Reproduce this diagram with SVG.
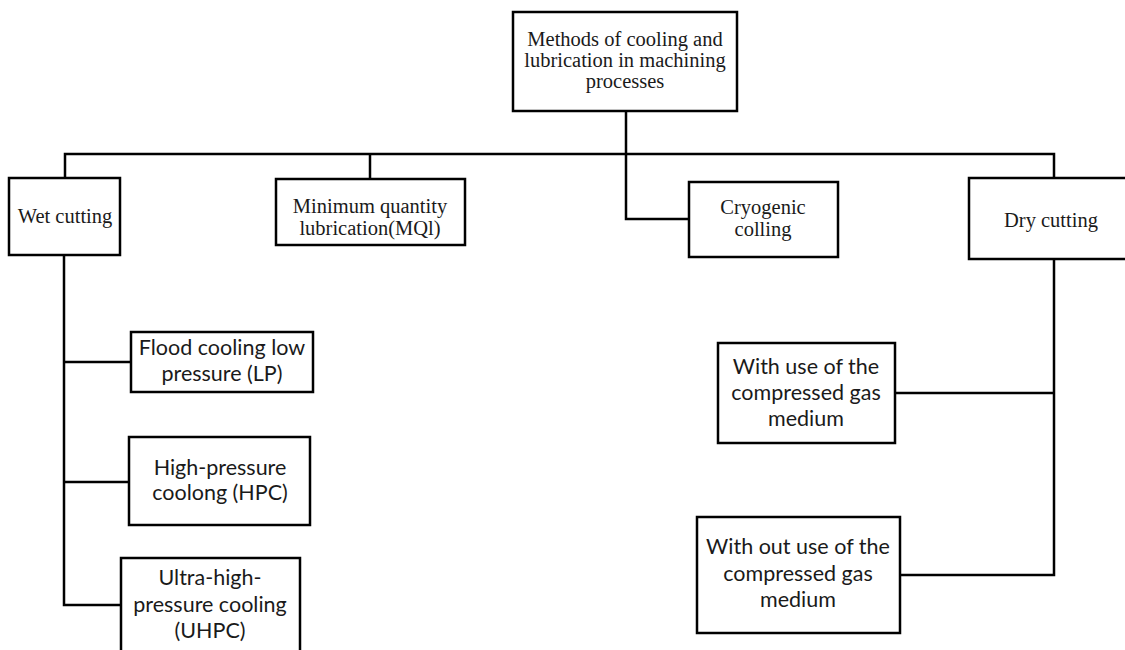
<svg xmlns="http://www.w3.org/2000/svg" width="1125" height="650" viewBox="0 0 1125 650">
<style>
.box{fill:#fff;stroke:#000;stroke-width:2.5}
.ln{fill:none;stroke:#000;stroke-width:2.5}
.s{font-family:"Liberation Serif","Times New Roman",serif;font-size:20.5px;fill:#1a1a1a;text-anchor:middle}
.c{font-family:Lato,"Liberation Sans",sans-serif;font-size:21.5px;fill:#1a1a1a;text-anchor:middle}
</style>
<rect width="1125" height="650" fill="#fff"/>
<g id="connectors">
<path class="ln" d="M626 111 V219 H689"/>
<path class="ln" d="M65 178 V154 H1054 V178"/>
<path class="ln" d="M370 154 V179"/>
<path class="ln" d="M64 255 V605 H121"/>
<path class="ln" d="M64 362 H131"/>
<path class="ln" d="M64 482 H129"/>
<path class="ln" d="M1054 259 V575 H900"/>
<path class="ln" d="M1054 393 H895"/>
</g>
<g id="root">
<rect class="box" x="513" y="12" width="224" height="99"/>
<text class="s" x="625" y="46">Methods of cooling and</text>
<text class="s" x="625" y="67">lubrication in machining</text>
<text class="s" x="625" y="88">processes</text>
</g>
<g id="wet">
<rect class="box" x="9" y="178" width="111" height="77"/>
<text class="s" x="65" y="223">Wet cutting</text>
</g>
<g id="mql">
<rect class="box" x="276" y="179" width="189" height="66"/>
<text class="s" x="370" y="213">Minimum quantity</text>
<text class="s" x="370" y="235">lubrication(MQl)</text>
</g>
<g id="cryo">
<rect class="box" x="689" y="182" width="149" height="75"/>
<text class="s" x="763" y="214">Cryogenic</text>
<text class="s" x="763" y="236">colling</text>
</g>
<g id="dry">
<rect class="box" x="969" y="178" width="170" height="81"/>
<text class="s" x="1051" y="227">Dry cutting</text>
</g>
<g id="flood">
<rect class="box" x="131" y="332" width="182" height="60"/>
<text class="c" x="222" y="355">Flood cooling low</text>
<text class="c" x="222" y="381">pressure (LP)</text>
</g>
<g id="hpc">
<rect class="box" x="129" y="437" width="181" height="88"/>
<text class="c" x="220" y="475">High-pressure</text>
<text class="c" x="220" y="500">coolong (HPC)</text>
</g>
<g id="uhpc">
<rect class="box" x="121" y="558" width="179" height="100"/>
<text class="c" x="210" y="585">Ultra-high-</text>
<text class="c" x="210" y="612">pressure cooling</text>
<text class="c" x="210" y="638">(UHPC)</text>
</g>
<g id="withgas">
<rect class="box" x="718" y="343" width="177" height="100"/>
<text class="c" x="806" y="374">With use of the</text>
<text class="c" x="806" y="400">compressed gas</text>
<text class="c" x="806" y="426">medium</text>
</g>
<g id="withoutgas">
<rect class="box" x="697" y="517" width="203" height="116"/>
<text class="c" x="798" y="554">With out use of the</text>
<text class="c" x="798" y="581">compressed gas</text>
<text class="c" x="798" y="607">medium</text>
</g>
</svg>
